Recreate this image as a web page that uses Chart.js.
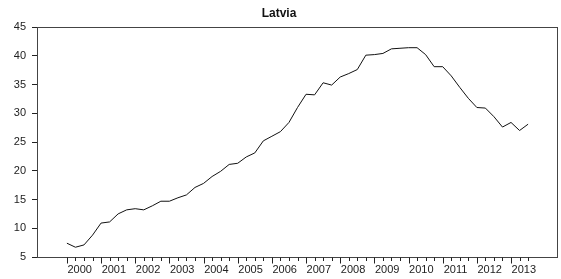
<!DOCTYPE html>
<html>
<head>
<meta charset="utf-8">
<script src="https://cdn.jsdelivr.net/npm/chart.js@4.4.1/dist/chart.umd.min.js"></script>
<style>
  html, body { margin: 0; padding: 0; background: #fff; }
  #wrap { width: 561px; height: 279px; }
</style>
</head>
<body>
<div id="wrap"><canvas id="c" width="561" height="279"></canvas></div>
<script>
// quarterly series, 2000Q1 .. 2013Q3
const years = [2000, 2001, 2002, 2003, 2004, 2005, 2006, 2007, 2008, 2009, 2010, 2011, 2012, 2013];
const values = [
  7.4, 6.7, 7.1, 8.8,
  10.9, 11.1, 12.5, 13.2,
  13.4, 13.2, 13.9, 14.7,
  14.7, 15.3, 15.8, 17.1,
  17.8, 19.0, 19.9, 21.1,
  21.3, 22.4, 23.1, 25.2,
  26.0, 26.8, 28.4, 31.0,
  33.3, 33.2, 35.3, 34.9,
  36.3, 36.9, 37.6, 40.1,
  40.2, 40.4, 41.2, 41.3,
  41.4, 41.4, 40.2, 38.1,
  38.1, 36.5, 34.5, 32.6,
  31.0, 30.9, 29.4, 27.6,
  28.4, 27.0, 28.1
];
const yTicks = [5, 10, 15, 20, 25, 30, 35, 40, 45];

const FONT = 'Liberation Sans, Arial, sans-serif';

const framePlugin = {
  id: 'frame',
  afterDraw(chart) {
    const { ctx, chartArea: a } = chart;
    const xs = chart.scales.x;
    ctx.save();
    ctx.strokeStyle = '#444';
    ctx.lineWidth = 1;
    ctx.strokeRect(Math.round(a.left) + 0.5, Math.round(a.top) + 0.5,
                   Math.round(a.right - a.left) - 1, Math.round(a.bottom - a.top));
    // quarter ticks
    ctx.strokeStyle = '#222';
    const base = Math.round(a.bottom) + 0.5;
    values.forEach((v, i) => {
      const px = Math.round(xs.getPixelForValue(i)) + 0.5;
      const len = i % 4 === 0 ? 6 : 3.5;
      ctx.beginPath();
      ctx.moveTo(px, base);
      ctx.lineTo(px, base + len);
      ctx.stroke();
    });
    // year labels
    ctx.fillStyle = '#222';
    ctx.font = '11px ' + FONT;
    ctx.textAlign = 'center';
    ctx.textBaseline = 'middle';
    years.forEach((yr, k) => {
      ctx.fillText(String(yr), xs.getPixelForValue(k * 4 + 1.5), base + 12);
    });
    ctx.restore();
  }
};

new Chart(document.getElementById('c'), {
  type: 'line',
  data: {
    datasets: [{
      data: values.map((v, i) => ({ x: i, y: v })),
      borderColor: '#111',
      borderWidth: 1,
      pointRadius: 0,
      tension: 0,
      fill: false
    }]
  },
  options: {
    responsive: false,
    animation: false,
    devicePixelRatio: 1,
    layout: { padding: { left: 0, right: 3, top: 0, bottom: 0 } },
    plugins: {
      legend: { display: false },
      tooltip: { enabled: false },
      title: {
        display: true,
        text: 'Latvia',
        color: '#111',
        font: { family: FONT, size: 12, weight: 'bold' },
        padding: { top: 6, bottom: 6.6 }
      }
    },
    scales: {
      x: {
        type: 'linear',
        min: -3.5,
        max: 57.5,
        ticks: { display: false },
        grid: { display: false },
        border: { display: false },
        afterFit(s) { s.height = 22; }
      },
      y: {
        min: 5,
        max: 45,
        afterBuildTicks(s) { s.ticks = yTicks.map(v => ({ value: v })); },
        ticks: {
          color: '#222',
          padding: 6,
          font: { family: FONT, size: 11 }
        },
        grid: {
          drawOnChartArea: false,
          drawTicks: true,
          tickLength: 5,
          tickColor: '#222'
        },
        border: { display: false },
        afterFit(s) { s.width = 37; }
      }
    }
  },
  plugins: [framePlugin]
});
</script>
</body>
</html>
